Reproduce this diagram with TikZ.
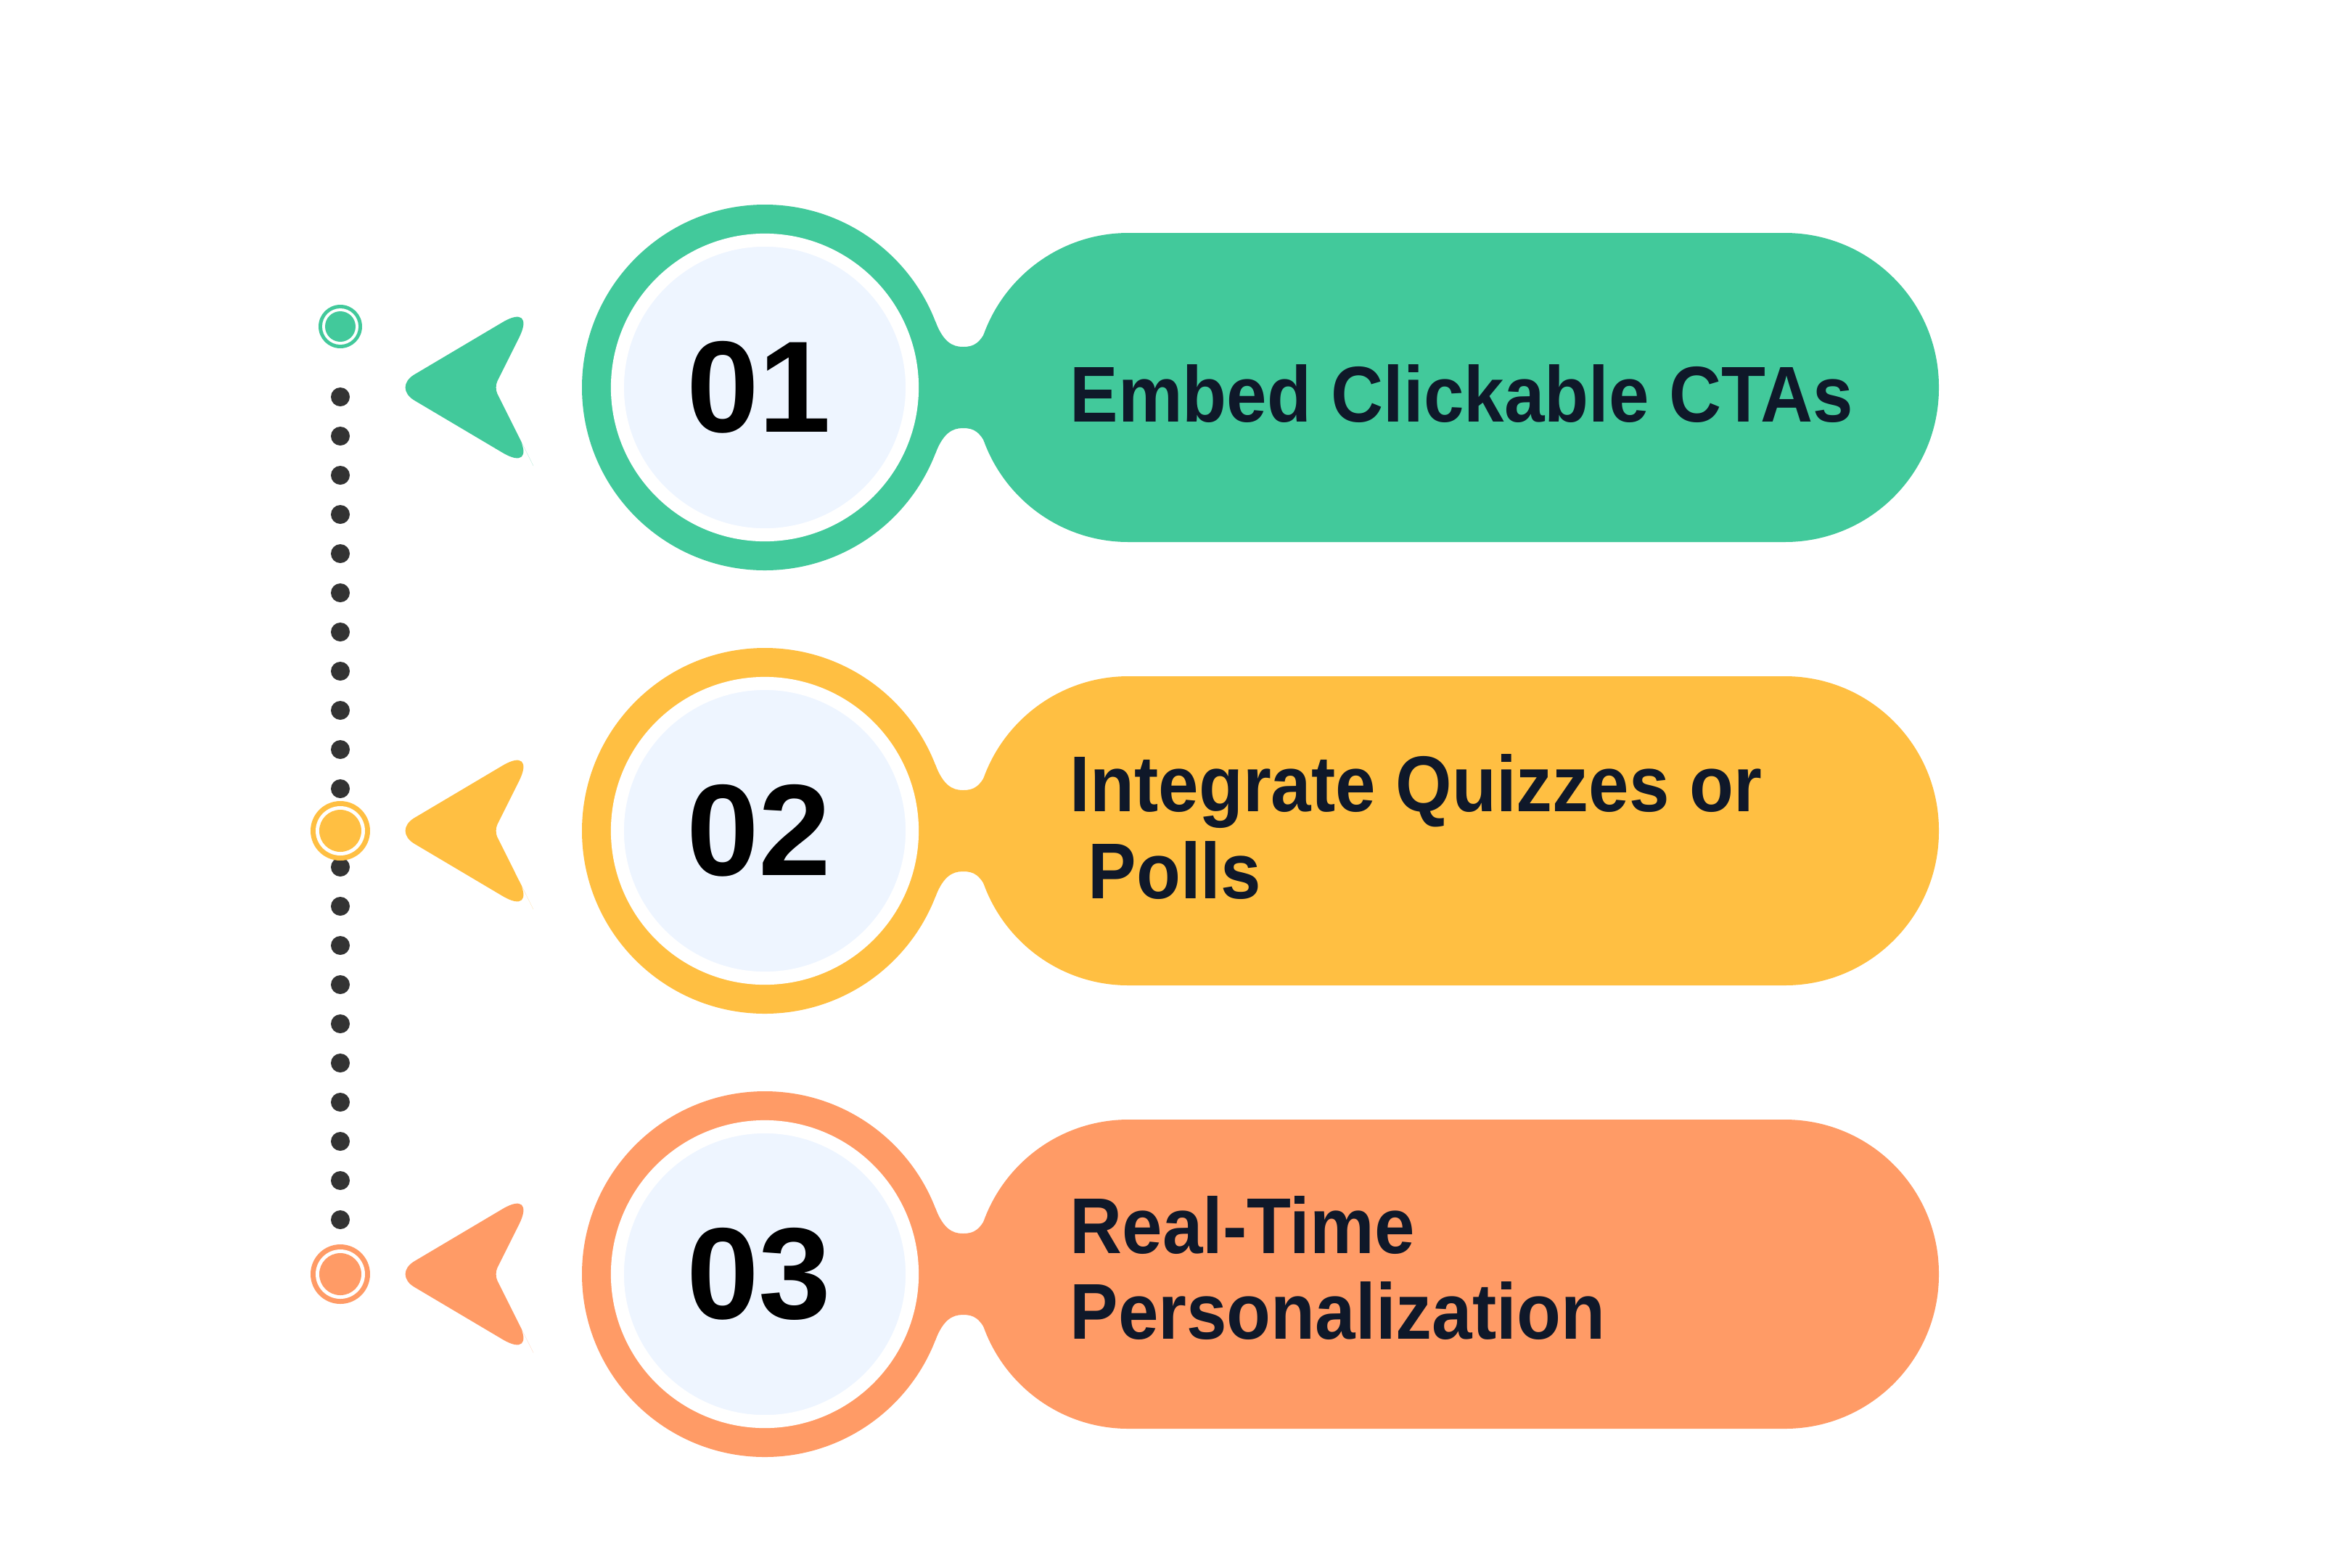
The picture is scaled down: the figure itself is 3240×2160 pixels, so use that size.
\documentclass[tikz,border=0pt]{standalone}
\usepackage{fontspec}
\setmainfont[FakeStretch=0.915]{Liberation Sans}
\newfontfamily\digitfont{Liberation Sans}
\usetikzlibrary{positioning}
\definecolor{stepgreen}{HTML}{42C99B}
\definecolor{stepyellow}{HTML}{FFBF42}
\definecolor{steporange}{HTML}{FF9B66}
\definecolor{bubblefill}{HTML}{EEF5FF}
\definecolor{dotgray}{HTML}{333333}
\definecolor{labelnavy}{HTML}{0F1829}
\tikzset{
  badge/.style={circle,fill=bubblefill,draw=white,line width=0.18cm,minimum size=4.06cm,inner sep=0pt},
  badgenum/.style={inner sep=0pt,text=black,font=\digitfont\fontsize{51}{51}\selectfont\bfseries},
  steplabel/.style={anchor=base west,inner sep=0pt,text=labelnavy,font=\fontsize{31}{34}\selectfont\bfseries},
  trackdot/.style={circle,fill=dotgray,inner sep=0pt,minimum size=0.26cm}
}
\begin{document}
\begin{tikzpicture}[x=0.01cm,y=-0.01cm]
\fill[white] (0,0) rectangle (3240,2160);
\useasboundingbox (0,0) rectangle (3240,2160);
% dotted track
\foreach \k in {0,...,21}{
  \node[trackdot] (dot\k) at (469,547+54*\k) {};
}
% rows: ring, neck, pill, pointer
\foreach \c/\y [count=\i] in {stepgreen/534,stepyellow/1145,steporange/1756}{
  \fill[\c] (1054,\y) circle[radius=252];
  \fill[\c] (1289,\y-91) .. controls (1300,\y-63) and (1312,\y-56) .. (1327,\y-56)
    .. controls (1342,\y-56) and (1351,\y-60) .. (1363,\y-87) -- (1363,\y+87)
    .. controls (1351,\y+60) and (1342,\y+56) .. (1327,\y+56)
    .. controls (1312,\y+56) and (1300,\y+63) .. (1289,\y+91) -- cycle;
  \fill[\c,rounded corners=2.12cm] (1343,\y-213) rectangle (2672,\y+213);
  \fill[\c] (710.5,\y-59) [rounded corners=0.55cm] -- (740,\y-118)
    -- (640.5,\y-59) [rounded corners=0.35cm] -- (541,\y)
    -- (640.5,\y+59) [rounded corners=0.55cm] -- (740,\y+118)
    -- (710.5,\y+59) [rounded corners=0.1cm] -- (681,\y) -- cycle;
  \node[badge] (b\i) at (1054,\y) {};
  \node[badgenum] (n\i) at ([xshift=-0.08cm]b\i.center) {0\i};
}
% markers on the track
\fill[stepgreen] (469,450) circle[radius=30];
\fill[white] (469,450) circle[radius=25];
\fill[stepgreen] (469,450) circle[radius=21];
\foreach \c/\y in {stepyellow/1145,steporange/1756}{
  \fill[\c] (469,\y) circle[radius=41];
  \fill[white] (469,\y) circle[radius=34];
  \fill[\c] (469,\y) circle[radius=29];
}
% labels
\node[steplabel] (t1) at (1474,581) {Embed Clickable CTAs};
\node[steplabel] (t2a) at (1474,1118) {Integrate Quizzes or};
\node[steplabel] (t2b) at (1499,1238) {Polls};
\node[steplabel] (t3a) at (1474,1727) {Real-Time};
\node[steplabel] (t3b) at (1474,1845) {Personalization};
\end{tikzpicture}
\end{document}
